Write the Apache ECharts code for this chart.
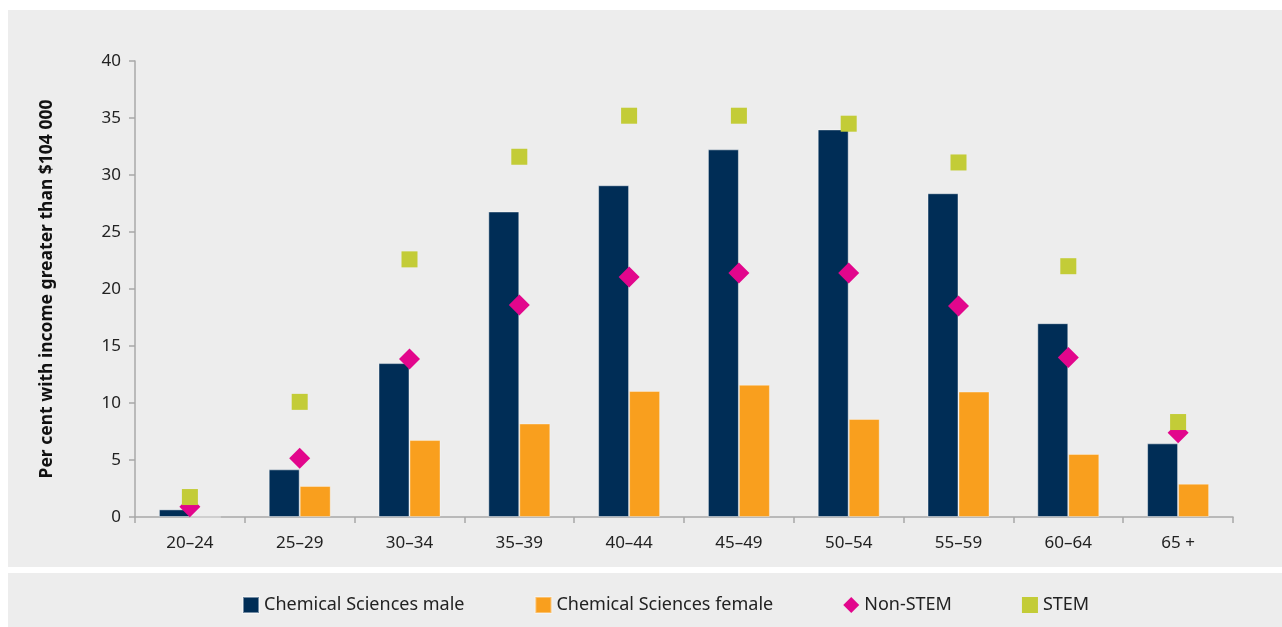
<!DOCTYPE html>
<html>
<head>
<meta charset="utf-8">
<script src="https://cdn.jsdelivr.net/npm/echarts@6/dist/echarts.min.js"></script>
<style>
html,body{margin:0;padding:0;background:#ffffff;}
#chart{width:1282px;height:627px;}
</style>
</head>
<body>
<div id="chart"></div>
<script>
const categories = ['20–24','25–29','30–34','35–39','40–44','45–49','50–54','55–59','60–64','65 +'];
const maleValues = [0.67, 4.18, 13.5, 26.8, 29.1, 32.25, 34.0, 28.4, 17.0, 6.46];
const femaleValues = [0, 2.72, 6.75, 8.2, 11.05, 11.6, 8.6, 11.0, 5.53, 2.92];
const nonStemValues = [0.9, 5.15, 13.85, 18.6, 21.05, 21.4, 21.4, 18.5, 14.0, 7.4];
const stemValues = [1.75, 10.1, 22.6, 31.6, 35.2, 35.2, 34.5, 31.1, 22.0, 8.33];
const yTicks = [0, 5, 10, 15, 20, 25, 30, 35, 40];

const FONT = '"Noto Sans", "Open Sans", sans-serif';
const chart = echarts.init(document.getElementById('chart'), null, {renderer: 'canvas'});
chart.setOption({
  backgroundColor: '#ffffff',
  animation: false,
  textStyle: {fontFamily: FONT},
  graphic: [
    {type: 'rect', z: -10, silent: true, shape: {x: 8, y: 10, width: 1274, height: 557}, style: {fill: '#ededed'}},
    {type: 'rect', z: -10, silent: true, shape: {x: 8, y: 573, width: 1274, height: 54}, style: {fill: '#ededed'}}
  ],
  grid: {left: 135, right: 49, top: 61, bottom: 110, containLabel: false},
  legend: {
    left: 242, top: 596, padding: 0,
    itemWidth: 16, itemHeight: 16, itemGap: 70,
    textStyle: {fontFamily: FONT, fontSize: 18, color: '#222'},
    data: [
      {name: 'Chemical Sciences male', icon: 'rect'},
      {name: 'Chemical Sciences female', icon: 'rect'},
      {name: 'Non-STEM', icon: 'diamond'},
      {name: 'STEM', icon: 'rect'}
    ]
  },
  xAxis: {
    type: 'category',
    data: categories,
    axisLine: {lineStyle: {color: '#a8a8a8', width: 1.5}},
    axisTick: {show: true, length: 6, alignWithLabel: false, lineStyle: {color: '#a8a8a8', width: 1.5}},
    axisLabel: {fontFamily: FONT, fontSize: 17, color: '#222', margin: 18}
  },
  yAxis: {
    type: 'value',
    min: 0, max: 40, interval: 5,
    name: 'Per cent with income greater than $104 000',
    nameLocation: 'middle',
    nameGap: 79,
    nameTextStyle: {fontFamily: FONT, fontSize: 17.5, fontWeight: 'bold', color: '#111'},
    axisLine: {show: true, lineStyle: {color: '#a8a8a8', width: 1.5}},
    axisTick: {show: true, length: 6, lineStyle: {color: '#a8a8a8', width: 1.5}},
    splitLine: {show: false},
    axisLabel: {fontFamily: FONT, fontSize: 17, color: '#222', margin: 14,
      formatter: v => yTicks.includes(v) ? String(v) : ''}
  },
  series: [
    {
      name: 'Chemical Sciences male', type: 'bar', data: maleValues,
      barWidth: 31, barGap: '0%',
      itemStyle: {color: '#002d56', borderColor: 'rgba(255,255,255,0.45)', borderWidth: 1},
      z: 2
    },
    {
      name: 'Chemical Sciences female', type: 'bar', data: femaleValues,
      barWidth: 31, barGap: '0%',
      itemStyle: {color: '#f99f1e', borderColor: 'rgba(255,255,255,0.35)', borderWidth: 1},
      z: 2
    },
    {
      name: 'Non-STEM', type: 'scatter', data: nonStemValues,
      symbol: 'diamond', symbolSize: [21, 21],
      itemStyle: {color: '#e2068c', opacity: 1},
      z: 3
    },
    {
      name: 'STEM', type: 'scatter', data: stemValues,
      symbol: 'rect', symbolSize: [16, 16],
      itemStyle: {color: '#c3cc37', opacity: 1},
      z: 4
    }
  ]
});
</script>
</body>
</html>
